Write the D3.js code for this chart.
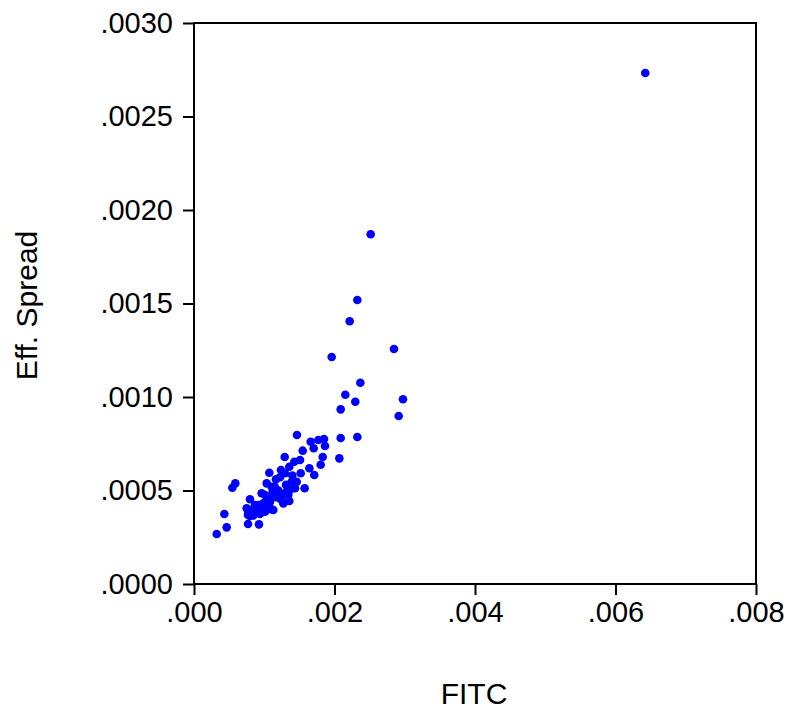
<!DOCTYPE html>
<html lang="en">
<head>
<meta charset="utf-8">
<title>Eff. Spread vs FITC</title>
<script src="https://d3js.org/d3.v7.min.js"></script>
<style>
  body { margin: 0; background: #fff; }
  svg text { font-family: "Liberation Sans", Arial, sans-serif; fill: #000; }
</style>
</head>
<body>
<div id="chart"></div>
<script>
// FITC (x) and effective spread (y)
var fitc = [
  6.424, 2.515, 2.325, 2.216, 2.847, 1.960, 2.368, 2.154, 2.975, 2.296,
  2.088, 2.914, 1.466, 1.661, 1.770, 1.851, 1.865, 1.704, 2.088, 2.325,
  1.547, 1.291, 1.832, 2.069, 1.803, 1.428, 1.509, 1.357, 1.642, 1.712,
  1.238, 1.519, 1.575, 1.072, 0.588, 0.546, 1.035, 1.167, 1.224, 1.295,
  1.391, 1.462, 1.367, 1.438, 1.319, 1.272, 1.342, 1.248, 1.357, 1.272,
  1.120, 1.106, 0.963, 1.011, 0.797, 1.035, 1.082, 0.987, 0.915, 0.868,
  0.750, 0.797, 0.773, 0.844, 0.915, 0.963, 1.035, 1.106, 0.868, 0.939,
  1.011, 1.129, 1.167, 1.224, 0.432, 0.465, 0.323, 0.769, 0.925, 0.769,
  0.797, 0.844, 1.150, 1.200, 1.060, 0.900, 1.400, 1.310
];
var spread = [
  2.733, 1.870, 1.519, 1.405, 1.257, 1.214, 1.076, 1.012, 0.988, 0.975,
  0.934, 0.898, 0.797, 0.761, 0.770, 0.775, 0.738, 0.726, 0.781, 0.786,
  0.713, 0.679, 0.679, 0.672, 0.638, 0.654, 0.663, 0.627, 0.619, 0.583,
  0.610, 0.592, 0.512, 0.595, 0.538, 0.515, 0.538, 0.560, 0.571, 0.592,
  0.547, 0.547, 0.503, 0.512, 0.494, 0.481, 0.476, 0.449, 0.444, 0.431,
  0.494, 0.520, 0.485, 0.476, 0.453, 0.449, 0.440, 0.431, 0.422, 0.422,
  0.405, 0.396, 0.378, 0.396, 0.399, 0.405, 0.410, 0.399, 0.378, 0.374,
  0.387, 0.396, 0.464, 0.458, 0.374, 0.303, 0.267, 0.321, 0.319, 0.369,
  0.364, 0.366, 0.520, 0.500, 0.460, 0.410, 0.580, 0.530
];
var xTicks = [0, 0.002, 0.004, 0.006, 0.008];
var xTickLabels = [".000", ".002", ".004", ".006", ".008"];
var yTicks = [0, 0.0005, 0.0010, 0.0015, 0.0020, 0.0025, 0.0030];
var yTickLabels = [".0000", ".0005", ".0010", ".0015", ".0020", ".0025", ".0030"];

var data = fitc.map(function(d, i) { return {x: d / 1000, y: spread[i] / 1000}; });

var W = 791, H = 715;
var margin = {top: 23, right: 35, bottom: 131, left: 194};
var width = W - margin.left - margin.right,
    height = H - margin.top - margin.bottom;

var svg = d3.select("#chart").append("svg")
    .attr("width", W)
    .attr("height", H);

var g = svg.append("g")
    .attr("transform", "translate(" + margin.left + "," + margin.top + ")");

var x = d3.scaleLinear().domain([0, 0.008]).range([0, width]);
var y = d3.scaleLinear().domain([0, 0.003]).range([height, 0]);

// frame
g.append("rect")
    .attr("width", width)
    .attr("height", height)
    .attr("fill", "none")
    .attr("stroke", "#000")
    .attr("stroke-width", 2);

var xAxis = g.append("g")
    .attr("transform", "translate(0," + height + ")")
    .call(d3.axisBottom(x).tickValues(xTicks)
        .tickFormat(function(d, i) { return xTickLabels[i]; })
        .tickSize(11).tickPadding(6));

var yAxis = g.append("g")
    .call(d3.axisLeft(y).tickValues(yTicks)
        .tickFormat(function(d, i) { return yTickLabels[i]; })
        .tickSize(11).tickPadding(10));

[xAxis, yAxis].forEach(function(a) {
  a.select(".domain").remove();
  a.selectAll(".tick line").attr("stroke", "#000").attr("stroke-width", 2);
  a.selectAll(".tick text")
    .attr("font-family", "'Liberation Sans', Arial, sans-serif")
    .attr("font-size", 29)
    .attr("fill", "#000");
});

// points
g.selectAll("circle.pt")
    .data(data)
    .enter()
    .append("circle")
      .attr("class", "pt")
      .attr("cx", function(d) { return x(d.x); })
      .attr("cy", function(d) { return y(d.y); })
      .attr("r", 4.3)
      .attr("fill", "#0000ff");

// axis titles
svg.append("text")
    .attr("x", margin.left + width / 2 - 1)
    .attr("y", 704)
    .attr("text-anchor", "middle")
    .attr("font-size", 30)
    .text("FITC");

svg.append("text")
    .attr("transform", "translate(37," + (margin.top + height / 2 + 2) + ") rotate(-90)")
    .attr("text-anchor", "middle")
    .attr("font-size", 30)
    .text("Eff. Spread");
</script>
</body>
</html>
